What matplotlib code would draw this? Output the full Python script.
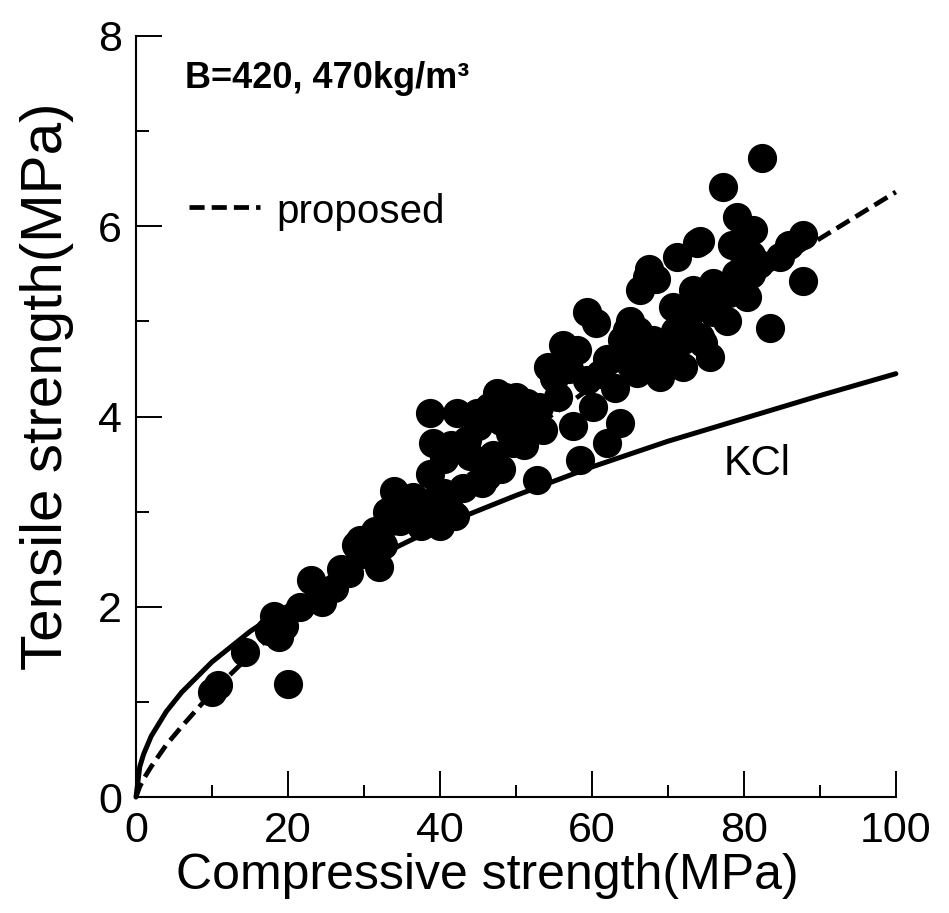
import matplotlib
matplotlib.use("Agg")
import matplotlib.pyplot as plt
from matplotlib.ticker import MultipleLocator

plt.rcParams['font.family'] = ['Liberation Sans', 'DejaVu Sans']

# measured points (compressive, tensile) in MPa
fc = [10.0, 10.8, 14.3, 17.5, 18.2, 18.8, 19.5, 20.0, 21.6, 23.0,
      24.5, 26.0, 27.0, 29.5, 31.0, 32.0, 31.5, 33.0, 34.0, 34.8,
      36.0, 37.0, 38.5, 39.1, 38.7, 38.7, 42.2, 44.9, 40.0, 41.5,
      44.0, 43.0, 46.2, 45.5, 47.5, 48.5, 49.2, 49.6, 51.4, 52.0,
      53.6, 52.8, 54.2, 55.0, 56.2, 57.5, 58.4, 59.3, 59.3, 60.1,
      60.6, 62.0, 63.7, 64.6, 65.0, 65.9, 66.3, 67.2, 68.0, 69.0,
      70.7, 71.2, 72.0, 72.5, 73.3, 73.8, 74.2, 74.2, 74.6, 75.5,
      76.0, 77.2, 77.2, 77.8, 79.1, 79.9, 80.4, 81.0, 81.2, 82.4,
      83.4, 84.7, 86.0, 87.8, 87.8, 50.5, 46.6, 35.5, 28.0, 66.0,
      36.5, 37.5, 40.5, 42.0, 40.6, 41.5, 43.5, 45.0, 46.5, 48.0,
      49.0, 50.0, 51.0, 53.0, 47.0, 48.0, 55.5, 57.0, 58.0, 62.0,
      63.0, 64.0, 65.0, 66.0, 67.0, 69.0, 70.0, 71.0, 72.0, 73.0,
      74.0, 75.0, 76.0, 78.0, 79.0, 80.0, 81.0, 82.0, 78.5, 67.5,
      68.5, 61.0, 29.0, 30.0, 32.5, 33.5, 35.0]
ft = [1.10, 1.18, 1.52, 1.75, 1.90, 1.68, 1.80, 1.19, 2.00, 2.28,
      2.05, 2.20, 2.40, 2.70, 2.55, 2.42, 2.80, 3.00, 3.22, 2.90,
      3.05, 2.95, 3.10, 3.72, 3.40, 4.04, 4.04, 4.04, 2.85, 3.00,
      3.58, 3.25, 3.37, 3.30, 4.25, 4.20, 3.83, 3.72, 4.14, 3.90,
      3.86, 3.33, 4.52, 4.40, 4.75, 3.90, 3.54, 5.10, 4.38, 4.10,
      4.98, 3.72, 3.93, 4.91, 4.55, 4.46, 5.33, 5.47, 4.80, 4.42,
      5.15, 5.68, 4.52, 5.00, 5.33, 5.82, 5.84, 4.84, 4.77, 4.63,
      5.10, 5.30, 6.41, 5.00, 6.10, 5.72, 5.26, 5.50, 5.96, 6.72,
      4.93, 5.68, 5.80, 5.91, 5.42, 4.00, 3.44, 3.10, 2.35, 4.70,
      3.15, 2.85, 3.20, 2.95, 3.55, 3.70, 3.75, 3.90, 4.10, 3.95,
      4.10, 4.20, 3.70, 4.10, 3.60, 3.45, 4.20, 4.50, 4.70, 4.60,
      4.30, 4.80, 5.00, 4.90, 4.60, 4.70, 4.60, 4.90, 4.80, 5.10,
      5.30, 5.20, 5.40, 5.30, 5.50, 5.90, 5.70, 5.60, 5.80, 5.55,
      5.45, 4.45, 2.65, 2.55, 2.65, 2.90, 2.95]

# curves
curve_x = [0, 0.5, 1, 2, 4, 6, 10, 15, 20, 30, 40, 50, 60, 70, 80, 90, 100]
kci_y = [0, 0.32, 0.45, 0.64, 0.90, 1.10, 1.42, 1.74, 2.01, 2.46, 2.85,
         3.17, 3.47, 3.74, 3.98, 4.22, 4.45]
proposed_y = [0, 0.11, 0.19, 0.32, 0.55, 0.74, 1.10, 1.49, 1.86, 2.53, 3.16,
              3.75, 4.31, 4.85, 5.36, 5.87, 6.36]

fig = plt.figure(figsize=(9.49, 9.13), dpi=100)
ax = fig.add_axes([0.1433, 0.127, 0.8007, 0.8336])

ax.plot(curve_x, kci_y, color='black', lw=3.6, solid_capstyle='round', clip_on=False)
ax.plot(curve_x, proposed_y, color='black', lw=3.4, dashes=(3.2, 1.5), clip_on=False)
ax.scatter(fc, ft, s=400, color='black', zorder=3, clip_on=False)

ax.set_xlim(0, 100)
ax.set_ylim(0, 8)
ax.xaxis.set_major_locator(MultipleLocator(20))
ax.xaxis.set_minor_locator(MultipleLocator(10))
ax.yaxis.set_major_locator(MultipleLocator(2))
ax.yaxis.set_minor_locator(MultipleLocator(1))

for side in ['top', 'right']:
    ax.spines[side].set_visible(False)
for side in ['left', 'bottom']:
    ax.spines[side].set_linewidth(1.5)

ax.tick_params(which='major', direction='in', length=19, width=1.4,
               labelsize=31, pad=10)
ax.tick_params(which='minor', direction='in', length=9, width=1.4)

ax.set_xlabel('Compressive strength(MPa)', fontsize=36)
ax.set_ylabel('Tensile strength(MPa)', fontsize=42)
ax.xaxis.set_label_coords(0.462, -0.074)
ax.yaxis.set_label_coords(-0.082, 0.54)

ax.text(6.5, 7.55, 'B=420, 470kg/m³', fontsize=26, fontweight='bold', va='center')
ax.plot([7, 16.3], [6.2, 6.2], color='black', lw=3.4, dashes=(3.2, 1.5))
ax.text(18.5, 6.15, 'proposed', fontsize=29, va='center')
ax.text(77.3, 3.5, 'KCl', fontsize=30, va='center')

fig.savefig('out.png', dpi=100)
